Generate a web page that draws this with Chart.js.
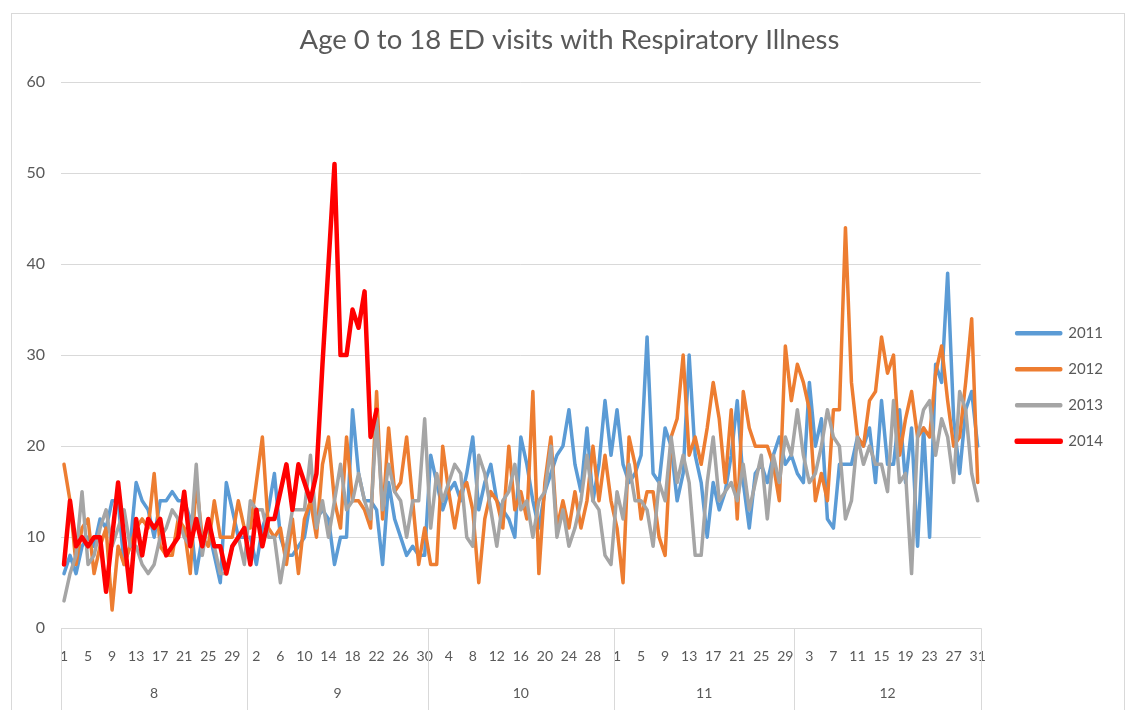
<!DOCTYPE html>
<html lang="en">
<head>
<meta charset="UTF-8" />
<title>Age 0 to 18 ED visits</title>
<script src="https://cdn.jsdelivr.net/npm/chart.js@4.4.1/dist/chart.umd.min.js"></script>
<style>
  body { margin: 0; background: #fff; overflow: hidden; }
  .frame { position: absolute; left: 11px; top: 13px; width: 1112px; height: 760px; border: 1px solid #d9d9d9; }
  .wrap { position: absolute; left: 0; top: 0; width: 1128px; height: 710px; }
</style>
</head>
<body>
<div class="frame"></div>
<div class="wrap"><canvas id="edChart"></canvas></div>
<script>
// month groups on the axis and their day counts
const months = ["8", "9", "10", "11", "12"];
const monthDays = [31, 30, 31, 30, 31];
const years = ["2011", "2012", "2013", "2014"];
const colors = ["#5b9bd5", "#ed7d31", "#a5a5a5", "#ff0000"];
const widths = [3.5, 3.5, 3.5, 4.5];

// daily visits, Aug 1 .. Dec 31 (one row per month)
const s2011 = [
  6, 8, 6, 9, 10, 9, 12, 11, 14, 14, 7, 9, 16, 14, 13, 10, 14, 14, 15, 14, 14, 12, 6, 10, 11, 8, 5, 16, 13, 10, 10,
  10, 7, 11, 13, 17, 10, 8, 8, 9, 10, 14, 12, 13, 12, 7, 10, 10, 24, 17, 14, 14, 13, 7, 16, 12, 10, 8, 9, 8, 8,
  19, 16, 13, 15, 16, 14, 17, 21, 13, 16, 18, 14, 13, 12, 10, 21, 18, 14, 11, 15, 17, 19, 20, 24, 18, 15, 22, 14, 18, 25, 19,
  24, 18, 16, 17, 19, 32, 17, 16, 22, 20, 14, 17, 30, 19, 16, 10, 16, 13, 15, 19, 25, 16, 11, 17, 18, 16, 19, 21, 18, 19,
  17, 16, 27, 20, 23, 12, 11, 18, 18, 18, 21, 20, 22, 16, 25, 18, 18, 24, 16, 22, 9, 22, 10, 29, 27, 39, 23, 17, 24, 26, 20
];
const s2012 = [
  18, 14, 7, 11, 12, 6, 9, 11, 2, 9, 7, 9, 11, 12, 11, 17, 9, 8, 8, 12, 11, 6, 16, 10, 9, 14, 10, 10, 10, 14, 11,
  11, 16, 21, 11, 10, 11, 7, 12, 6, 12, 14, 10, 18, 21, 14, 11, 21, 14, 14, 13, 11, 26, 12, 22, 15, 16, 21, 14, 7, 11,
  7, 7, 20, 15, 11, 15, 16, 13, 5, 12, 15, 14, 11, 20, 13, 15, 12, 26, 6, 16, 21, 11, 14, 11, 15, 11, 14, 20, 14, 19, 14,
  11, 5, 21, 18, 12, 15, 15, 10, 8, 21, 23, 30, 19, 21, 18, 22, 27, 23, 16, 24, 12, 26, 22, 20, 20, 20, 18, 14, 31, 25,
  29, 27, 24, 14, 17, 14, 24, 24, 44, 27, 21, 20, 25, 26, 32, 28, 30, 19, 23, 26, 21, 22, 21, 28, 31, 25, 20, 21, 27, 34, 16
];
const s2013 = [
  3, 6, 8, 15, 7, 8, 11, 13, 9, 11, 13, 9, 9, 7, 6, 7, 10, 11, 13, 12, 10, 9, 18, 8, 12, 9, 6, 6, 9, 10, 7,
  14, 13, 13, 10, 10, 5, 9, 13, 13, 13, 19, 11, 14, 10, 14, 18, 13, 14, 17, 14, 12, 23, 13, 18, 15, 14, 10, 14, 14, 23,
  11, 17, 14, 16, 18, 17, 10, 9, 19, 17, 13, 9, 14, 15, 18, 13, 14, 10, 14, 15, 20, 10, 13, 9, 11, 14, 19, 14, 13, 8, 7,
  15, 12, 18, 14, 14, 13, 9, 16, 14, 21, 16, 19, 16, 8, 8, 16, 21, 14, 15, 16, 14, 18, 13, 16, 19, 12, 19, 16, 21, 19,
  24, 19, 16, 17, 20, 24, 21, 20, 12, 14, 21, 18, 20, 18, 18, 15, 25, 16, 17, 6, 21, 24, 25, 19, 23, 21, 16, 26, 24, 17, 14
];
// 2014 stops at Sep 22
const s2014 = [
  7, 14, 9, 10, 9, 10, 10, 4, 10, 16, 10, 4, 12, 8, 12, 11, 12, 8, 9, 10, 15, 9, 12, 9, 12, 9, 9, 6, 9, 10, 11,
  7, 13, 9, 12, 12, 15, 18, 13, 18, 16, 14, 17, 29, 40, 51, 30, 30, 35, 33, 37, 21, 24
];
const series = [s2011, s2012, s2013, s2014];

const dayLabels = [];
monthDays.forEach((n) => {
  for (let d = 1; d <= n; d++) dayLabels.push(String(d));
});

const textColor = "#595959";
const gridColor = "#d9d9d9";
const fontFamily = "Lato, 'Liberation Sans', sans-serif";

// second row of the category axis: month numbers with separators
const monthAxis = {
  id: "monthAxis",
  afterDraw(chart) {
    const ctx = chart.ctx;
    const x = chart.scales.x;
    const area = chart.chartArea;
    const half = (x.getPixelForValue(1) - x.getPixelForValue(0)) / 2;
    ctx.save();
    ctx.strokeStyle = gridColor;
    ctx.lineWidth = 1;
    ctx.fillStyle = textColor;
    ctx.font = "14px " + fontFamily;
    ctx.textAlign = "center";
    ctx.textBaseline = "middle";
    let start = 0;
    months.forEach((m, i) => {
      const end = start + monthDays[i] - 1;
      const left = x.getPixelForValue(start) - half;
      const right = x.getPixelForValue(end) + half;
      const edges = i === months.length - 1 ? [left, right] : [left];
      edges.forEach((px) => {
        const lx = Math.round(px) + 0.5;
        ctx.beginPath();
        ctx.moveTo(lx, area.bottom);
        ctx.lineTo(lx, chart.height);
        ctx.stroke();
      });
      ctx.fillText(m, (left + right) / 2, area.bottom + 65);
      start = end + 1;
    });
    ctx.restore();
  }
};

new Chart("edChart", {
  type: "line",
  data: {
    labels: dayLabels,
    datasets: years.map((y, i) => ({
      label: y,
      data: series[i],
      borderColor: colors[i],
      backgroundColor: colors[i],
      borderWidth: widths[i],
      borderJoinStyle: "round",
      borderCapStyle: "round",
      pointRadius: 0,
      tension: 0,
      order: years.length - i
    }))
  },
  options: {
    responsive: true,
    maintainAspectRatio: false,
    animation: false,
    layout: { padding: { left: 26, right: 15, top: 12, bottom: 25 } },
    plugins: {
      title: {
        display: true,
        text: "Age 0 to 18 ED visits with Respiratory Illness",
        color: textColor,
        font: { family: fontFamily, size: 27.5, weight: "normal" },
        padding: { top: 11.5, bottom: 25.5 }
      },
      legend: {
        position: "right",
        title: { display: true, text: "", padding: { top: 63, bottom: 0 } },
        labels: {
          boxWidth: 44,
          boxHeight: 1,
          padding: 21,
          color: textColor,
          font: { family: fontFamily, size: 15 },
          sort: (a, b) => a.datasetIndex - b.datasetIndex
        }
      },
      tooltip: { enabled: false }
    },
    scales: {
      x: {
        offset: true,
        grid: { display: false, drawTicks: false },
        border: { color: gridColor },
        ticks: {
          autoSkip: false,
          maxRotation: 0,
          minRotation: 0,
          padding: 20,
          color: textColor,
          font: { family: fontFamily, size: 14 },
          callback: function (v, i) {
            return i % 4 === 0 ? this.getLabelForValue(v) : null;
          }
        }
      },
      y: {
        min: 0,
        max: 60,
        ticks: { stepSize: 10, padding: 16, color: textColor, font: { family: fontFamily, size: 16 } },
        grid: { color: gridColor, drawTicks: false },
        border: { display: false },
        afterFit(scale) { scale.width = 35; }
      },
      // empty spacer between plot and legend
      y2: {
        position: "right",
        grid: { display: false },
        border: { display: false },
        ticks: { display: false },
        afterFit(scale) { scale.width = 15; }
      }
    }
  },
  plugins: [monthAxis]
});
</script>
</body>
</html>
